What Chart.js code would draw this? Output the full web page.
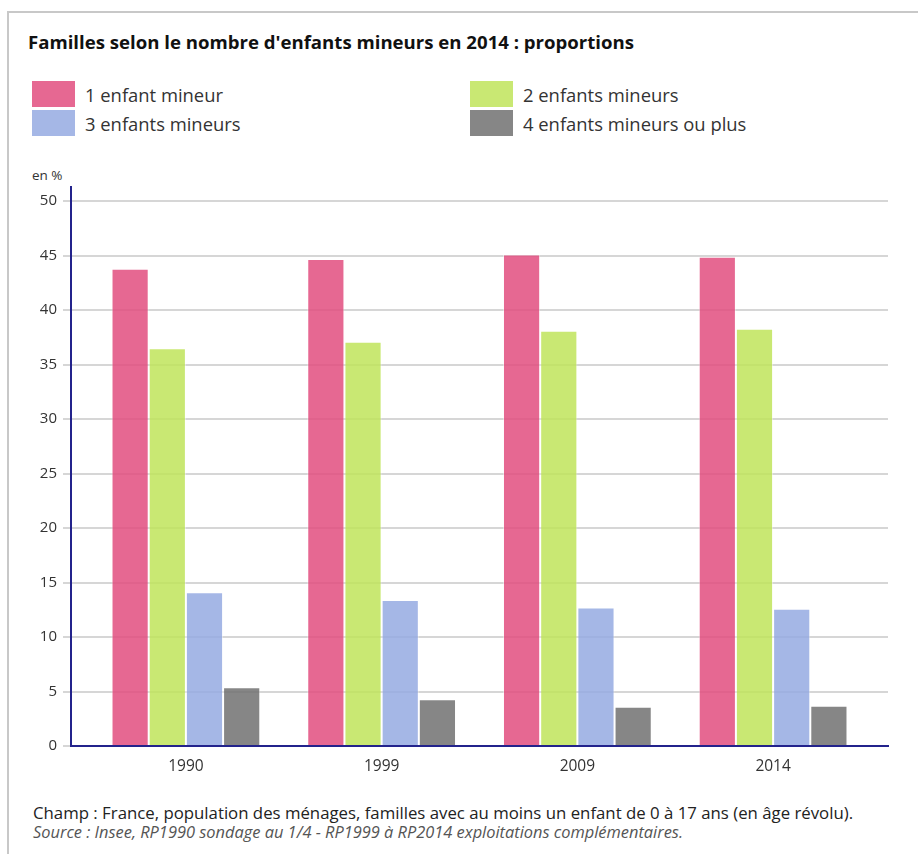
<!DOCTYPE html>
<html lang="fr">
<head>
<meta charset="utf-8">
<script src="https://cdn.jsdelivr.net/npm/chart.js@4"></script>
<style>
	html, body { margin: 0; padding: 0; background: #fff; overflow: hidden; }
	body { width: 918px; height: 854px; position: relative; font-family: 'Open Sans', sans-serif; color: #222; }
	.frame { position: absolute; left: 7px; top: 11px; width: 1000px; height: 900px; border-top: 2px solid #c8c8c8; border-left: 2px solid #c8c8c8; }
	.title { position: absolute; left: 28px; top: 29px; font-size: 18.6px; line-height: 26px; font-weight: 700; color: #111; white-space: nowrap; }
	.legend-item { position: absolute; height: 26px; font-size: 18.4px; color: #333; white-space: nowrap; }
	.legend-item span.box { position: absolute; left: 0; top: 0; width: 43px; height: 26px; }
	.legend-item span.txt { position: absolute; left: 53px; top: 1px; line-height: 26px; }
	.unit { position: absolute; left: 32px; top: 166px; font-size: 13.5px; line-height: 18px; color: #333; }
	.chart-box { position: absolute; left: 10px; top: 160px; width: 900px; height: 620px; }
	.note { position: absolute; left: 33px; top: 801px; font-size: 16.8px; line-height: 24px; color: #222; white-space: nowrap; }
	.source { position: absolute; left: 33px; top: 821px; font-size: 16.4px; line-height: 22px; font-style: italic; color: #555; white-space: nowrap; }
</style>
</head>
<body>
<div class="frame"></div>
<div class="title">Familles selon le nombre d'enfants mineurs en 2014 : proportions</div>
<div id="legend"></div>
<div class="unit">en %</div>
<div class="chart-box"><canvas id="familyChart"></canvas></div>
<div class="note">Champ : France, population des ménages, familles avec au moins un enfant de 0 à 17 ans (en âge révolu).</div>
<div class="source">Source : Insee, RP1990 sondage au 1/4 - RP1999 à RP2014 exploitations complémentaires.</div>
<script>
const years = [ '1990', '1999', '2009', '2014' ];
const seriesLabels = [ '1 enfant mineur', '2 enfants mineurs', '3 enfants mineurs', '4 enfants mineurs ou plus' ];
const oneChild = [ 43.8, 44.7, 45.1, 44.9 ];
const twoChildren = [ 36.5, 37.1, 38.1, 38.3 ];
const threeChildren = [ 14.1, 13.4, 12.7, 12.6 ];
const fourOrMore = [ 5.4, 4.3, 3.6, 3.7 ];

const colors = [ 'rgba(226,77,127,0.85)', 'rgba(191,228,91,0.85)', 'rgba(149,170,226,0.85)', 'rgba(113,113,113,0.85)' ];
const series = [ oneChild, twoChildren, threeChildren, fourOrMore ];

// legend in two columns, like the original
const legendPos = [ [ 32, 81 ], [ 470, 81 ], [ 32, 110 ], [ 470, 110 ] ];
const legend = document.getElementById( 'legend' );
seriesLabels.forEach( function( label, i ) {
	const item = document.createElement( 'div' );
	item.className = 'legend-item';
	item.style.left = legendPos[ i ][ 0 ] + 'px';
	item.style.top = legendPos[ i ][ 1 ] + 'px';
	item.innerHTML = '<span class="box" style="background:' + colors[ i ] + '"></span><span class="txt">' + label + '</span>';
	legend.appendChild( item );
} );

const ctx = document.getElementById( 'familyChart' );

new Chart( ctx, {
	type: 'bar',
	data: {
		datasets: series.map( function( values, i ) {
			return {
				label: seriesLabels[ i ],
				data: values.map( function( v, j ) { return { x: j, y: v }; } ),
				backgroundColor: colors[ i ],
				borderColor: 'rgba(255,255,255,0.45)',
				borderWidth: 1,
				categoryPercentage: 0.76,
				barPercentage: 1,
			};
		} ),
	},
	options: {
		responsive: true,
		maintainAspectRatio: false,
		animation: false,
		layout: { padding: { top: 27, right: 22, bottom: 0, left: 0 } },
		plugins: {
			legend: { display: false },
			tooltip: { enabled: false },
		},
		scales: {
			x: {
				type: 'linear',
				min: -0.587,
				max: 3.587,
				offset: false,
				grid: { display: false, offset: false },
				border: { display: true, color: '#23238c', width: 2 },
				ticks: {
					stepSize: 1,
					includeBounds: false,
					maxRotation: 0,
					padding: 3,
					color: '#333',
					font: { family: 'Open Sans', size: 15.5 },
					callback: function( v ) { return years[ v ]; },
				},
				afterFit: function( scale ) { scale.height = 34; },
			},
			y: {
				min: 0,
				max: 51.3,
				grid: { color: '#d6d6d6', lineWidth: 2, tickLength: 8 },
				border: { display: true, color: '#23238c', width: 2 },
				ticks: {
					stepSize: 5,
					includeBounds: false,
					padding: 6,
					color: '#333',
					font: { family: 'Open Sans', size: 15 },
				},
				afterFit: function( scale ) { scale.width = 61; },
			},
		},
	},
} );
</script>
</body>
</html>
